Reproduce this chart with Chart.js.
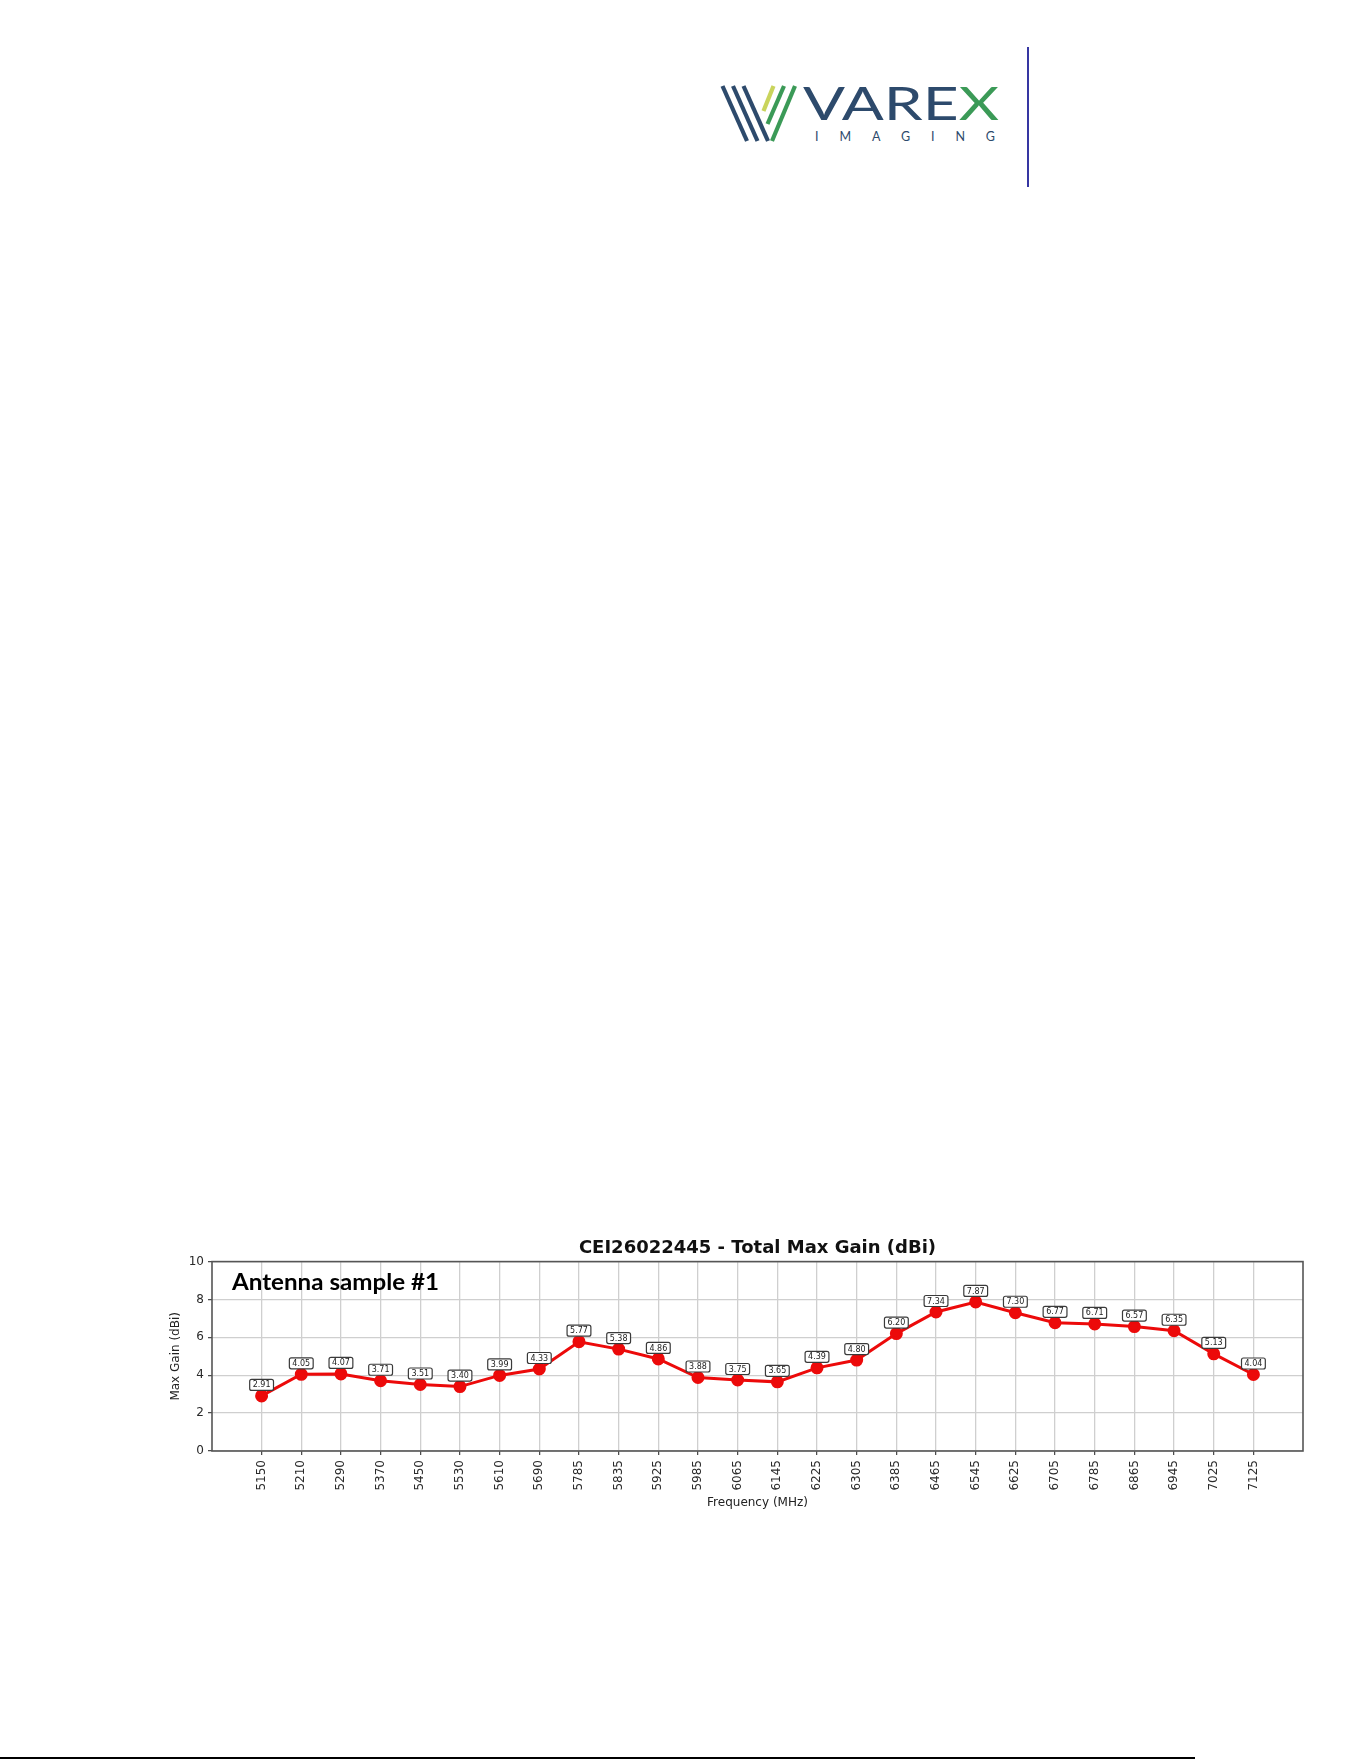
<!DOCTYPE html>
<html>
<head>
<meta charset="utf-8">
<script src="https://cdn.jsdelivr.net/npm/chart.js@4.4.1/dist/chart.umd.min.js"></script>
<style>
  html, body { margin: 0; padding: 0; background: #ffffff; }
  body { width: 1361px; height: 1761px; position: relative; overflow: hidden; }
  #logo { position: absolute; left: 0; top: 0; }
  #chartBox { position: absolute; left: 150px; top: 1215px; width: 1211px; height: 305px; }
  #bottomRule { position: absolute; left: 0; top: 1757px; width: 1195px; height: 2px; background: #000; }
</style>
</head>
<body>
<svg id="logo" width="1361" height="200" xmlns="http://www.w3.org/2000/svg">
  <g stroke-linecap="butt" fill="none">
    <line x1="722.5" y1="86" x2="747" y2="141" stroke="#2d4a6c" stroke-width="4.2"/>
    <line x1="733" y1="86" x2="757.5" y2="141" stroke="#2d4a6c" stroke-width="4.2"/>
    <line x1="743.5" y1="86" x2="768" y2="141" stroke="#2d4a6c" stroke-width="4.2"/>
    <line x1="773.5" y1="86" x2="763.5" y2="111" stroke="#c9d45c" stroke-width="4.2"/>
    <line x1="784" y1="86" x2="767.5" y2="124" stroke="#3b9a57" stroke-width="4.2"/>
    <line x1="795" y1="86" x2="772" y2="141" stroke="#3b9a57" stroke-width="4.2"/>
  </g>
  <text x="803" y="120" font-family="Lato, 'Open Sans', sans-serif" font-size="47" textLength="196" lengthAdjust="spacingAndGlyphs" fill="#2d4a6c"><tspan>VARE</tspan><tspan fill="#3b9a57">X</tspan></text>
  <text x="815" y="141" font-family="Lato, 'Open Sans', sans-serif" font-size="12.5" textLength="180" lengthAdjust="spacing" fill="#2d4a6c">IMAGING</text>
  <line x1="1028" y1="47" x2="1028" y2="187" stroke="#3636a2" stroke-width="2"/>
</svg>

<div id="chartBox"><canvas id="c" width="1211" height="305"></canvas></div>
<div id="bottomRule"></div>

<script>
// ---- data ----
const frequencies = ["5150","5210","5290","5370","5450","5530","5610","5690","5785","5835","5925","5985","6065","6145","6225","6305","6385","6465","6545","6625","6705","6785","6865","6945","7025","7125"];
const maxGain = [2.91,4.05,4.07,3.71,3.51,3.40,3.99,4.33,5.77,5.38,4.86,3.88,3.75,3.65,4.39,4.80,6.20,7.34,7.87,7.30,6.77,6.71,6.57,6.35,5.13,4.04];
const yTicks = [0,2,4,6,8,10];
const chartTitle = "CEI26022445 - Total Max Gain (dBi)";
const sampleLabel = "Antenna sample #1";
const xTitle = "Frequency (MHz)";
const yTitle = "Max Gain (dBi)";

const FONT = "'DejaVu Sans', sans-serif";

const framePlugin = {
  id: 'frame',
  beforeDatasetsDraw(chart) {
    const {ctx, chartArea: a} = chart;
    ctx.save();
    ctx.strokeStyle = '#555555';
    ctx.lineWidth = 1.6;
    ctx.strokeRect(a.left, a.top, a.right - a.left, a.bottom - a.top);
    ctx.restore();
  }
};

const labelPlugin = {
  id: 'valueLabels',
  afterDatasetsDraw(chart) {
    const {ctx} = chart;
    const meta = chart.getDatasetMeta(0);
    ctx.save();
    ctx.font = "8px " + FONT;
    ctx.textAlign = 'center';
    ctx.textBaseline = 'middle';
    meta.data.forEach((pt, i) => {
      const txt = maxGain[i].toFixed(2);
      const w = ctx.measureText(txt).width + 6;
      const h = 11;
      const cx = pt.x, cy = pt.y - 11;
      ctx.beginPath();
      ctx.roundRect(cx - w / 2, cy - h / 2, w, h, 2);
      ctx.fillStyle = '#ffffff';
      ctx.fill();
      ctx.strokeStyle = '#3a3a3a';
      ctx.lineWidth = 1.2;
      ctx.stroke();
      ctx.fillStyle = '#222222';
      ctx.fillText(txt, cx, cy + 0.5);
    });
    ctx.restore();
  }
};

const samplePlugin = {
  id: 'sampleText',
  afterDraw(chart) {
    const {ctx, chartArea: a} = chart;
    ctx.save();
    ctx.font = "bold 22px Lato, 'Open Sans', sans-serif";
    const w = ctx.measureText(sampleLabel).width;
    const sx = 207 / w;
    ctx.translate(a.left + 20, a.top + 28);
    ctx.scale(sx, 1);
    ctx.fillStyle = '#000000';
    ctx.textAlign = 'left';
    ctx.textBaseline = 'alphabetic';
    ctx.fillText(sampleLabel, 0, 0);
    ctx.restore();
  }
};

new Chart(document.getElementById('c'), {
  type: 'line',
  data: {
    datasets: [{
      data: maxGain.map((g, i) => ({x: i, y: g})),
      borderColor: '#ec0a0a',
      backgroundColor: '#ec0a0a',
      borderWidth: 3,
      pointRadius: 5,
      pointBackgroundColor: '#ec0a0a',
      pointBorderColor: '#ec0a0a',
      tension: 0,
      fill: false
    }]
  },
  options: {
    responsive: false,
    animation: false,
    devicePixelRatio: 1,
    layout: { padding: { left: 0, right: 58, top: 0, bottom: 0 } },
    plugins: {
      legend: { display: false },
      tooltip: { enabled: false },
      title: {
        display: true,
        text: chartTitle,
        fullSize: false,
        color: '#111111',
        font: { family: FONT, size: 18, weight: 'bold' },
        padding: { top: 23, bottom: 2 }
      }
    },
    scales: {
      x: {
        type: 'linear',
        min: -1.25,
        max: 26.25,
        afterBuildTicks(scale) { scale.ticks = frequencies.map((f, i) => ({value: i})); },
        afterFit(scale) { scale.height = 69; },
        ticks: {
          autoSkip: false,
          minRotation: 90,
          maxRotation: 90,
          padding: 5,
          color: '#2a2a2a',
          font: { family: FONT, size: 12 },
          callback: (v) => frequencies[v] !== undefined ? frequencies[v] : ''
        },
        grid: { color: '#cfcfcf', lineWidth: 1.3, tickColor: '#444444', tickLength: 4, tickWidth: 1.2 },
        border: { display: false },
        title: { display: true, text: xTitle, color: '#222222', font: { family: FONT, size: 12 }, padding: { top: 0, bottom: 10 } }
      },
      y: {
        min: 0,
        max: 10,
        afterBuildTicks(scale) { scale.ticks = yTicks.map(v => ({value: v})); },
        afterFit(scale) { scale.width = 62; },
        ticks: {
          padding: 4,
          color: '#2a2a2a',
          font: { family: FONT, size: 12 },
          callback: (v) => String(v)
        },
        grid: { color: '#cfcfcf', lineWidth: 1.3, tickColor: '#444444', tickLength: 4, tickWidth: 1.2 },
        border: { display: false },
        title: { display: true, text: yTitle, color: '#222222', font: { family: FONT, size: 12 }, padding: { top: 18.5, bottom: 0 } }
      }
    }
  },
  plugins: [framePlugin, labelPlugin, samplePlugin]
});
</script>
</body>
</html>
